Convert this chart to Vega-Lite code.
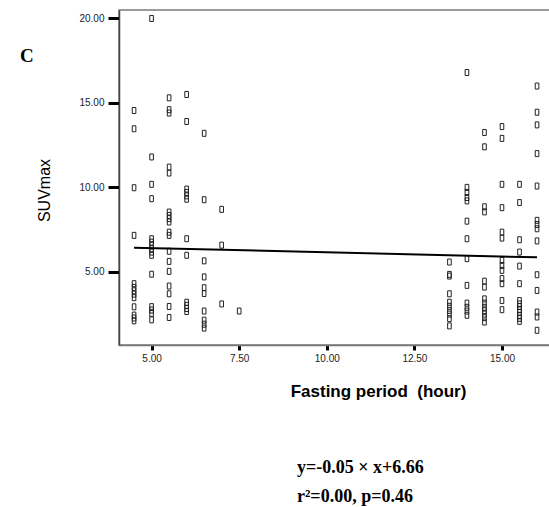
{
  "$schema": "https://vega.github.io/schema/vega-lite/v6.json",
  "width": 431,
  "height": 335,
  "autosize": "none",
  "padding": {"left": 119, "top": 10, "right": 0, "bottom": 162},
  "background": "white",
  "config": {
    "view": {"stroke": "#7a7a7a", "strokeWidth": 1.5},
    "axis": {
      "labelFont": "Liberation Sans",
      "labelFontSize": 10,
      "labelColor": "#222",
      "grid": false,
      "tickColor": "#000",
      "tickWidth": 3,
      "titleColor": "#000",
      "titleFont": "Liberation Sans"
    }
  },
  "title": {
    "text": ["y=-0.05 × x+6.66", "r²=0.00, p=0.46"],
    "orient": "bottom",
    "anchor": "start",
    "align": "left",
    "dx": 277,
    "offset": 60,
    "font": "Liberation Serif",
    "fontSize": 18,
    "fontWeight": "bold",
    "lineHeight": 29,
    "color": "#000"
  },
  "layer": [
    {
      "data": {
        "values": [
          {"hour": 4.5, "suv": 14.55}, {"hour": 4.5, "suv": 13.47}, {"hour": 4.5, "suv": 9.98}, {"hour": 4.5, "suv": 7.16},
          {"hour": 4.5, "suv": 4.3}, {"hour": 4.5, "suv": 4.08}, {"hour": 4.5, "suv": 3.88}, {"hour": 4.5, "suv": 3.68},
          {"hour": 4.5, "suv": 3.47}, {"hour": 4.5, "suv": 2.93}, {"hour": 4.5, "suv": 2.44}, {"hour": 4.5, "suv": 2.27}, {"hour": 4.5, "suv": 2.1},
          {"hour": 5.0, "suv": 20.0}, {"hour": 5.0, "suv": 11.8}, {"hour": 5.0, "suv": 10.18}, {"hour": 5.0, "suv": 9.33},
          {"hour": 5.0, "suv": 6.96}, {"hour": 5.0, "suv": 6.76}, {"hour": 5.0, "suv": 6.57}, {"hour": 5.0, "suv": 6.37},
          {"hour": 5.0, "suv": 6.17}, {"hour": 5.0, "suv": 5.98}, {"hour": 5.0, "suv": 4.86}, {"hour": 5.0, "suv": 2.94},
          {"hour": 5.0, "suv": 2.74}, {"hour": 5.0, "suv": 2.54}, {"hour": 5.0, "suv": 2.16},
          {"hour": 5.5, "suv": 15.3}, {"hour": 5.5, "suv": 14.6}, {"hour": 5.5, "suv": 14.4}, {"hour": 5.5, "suv": 11.2},
          {"hour": 5.5, "suv": 10.85}, {"hour": 5.5, "suv": 8.54}, {"hour": 5.5, "suv": 8.34}, {"hour": 5.5, "suv": 8.15},
          {"hour": 5.5, "suv": 7.95}, {"hour": 5.5, "suv": 7.35}, {"hour": 5.5, "suv": 7.16}, {"hour": 5.5, "suv": 6.22},
          {"hour": 5.5, "suv": 5.62}, {"hour": 5.5, "suv": 5.03}, {"hour": 5.5, "suv": 4.16}, {"hour": 5.5, "suv": 3.7},
          {"hour": 5.5, "suv": 2.95}, {"hour": 5.5, "suv": 2.3},
          {"hour": 6.0, "suv": 15.5}, {"hour": 6.0, "suv": 13.9}, {"hour": 6.0, "suv": 9.9}, {"hour": 6.0, "suv": 9.7},
          {"hour": 6.0, "suv": 9.5}, {"hour": 6.0, "suv": 9.3}, {"hour": 6.0, "suv": 6.96}, {"hour": 6.0, "suv": 5.98},
          {"hour": 6.0, "suv": 3.2}, {"hour": 6.0, "suv": 3.02}, {"hour": 6.0, "suv": 2.83}, {"hour": 6.0, "suv": 2.65},
          {"hour": 6.5, "suv": 13.2}, {"hour": 6.5, "suv": 9.27}, {"hour": 6.5, "suv": 5.65}, {"hour": 6.5, "suv": 4.7},
          {"hour": 6.5, "suv": 4.06}, {"hour": 6.5, "suv": 3.72}, {"hour": 6.5, "suv": 2.68}, {"hour": 6.5, "suv": 2.14},
          {"hour": 6.5, "suv": 1.9}, {"hour": 6.5, "suv": 1.67},
          {"hour": 7.0, "suv": 8.7}, {"hour": 7.0, "suv": 6.58}, {"hour": 7.0, "suv": 3.1},
          {"hour": 7.5, "suv": 2.68},
          {"hour": 13.5, "suv": 5.58}, {"hour": 13.5, "suv": 4.85}, {"hour": 13.5, "suv": 4.75}, {"hour": 13.5, "suv": 3.7},
          {"hour": 13.5, "suv": 3.2}, {"hour": 13.5, "suv": 2.96}, {"hour": 13.5, "suv": 2.72}, {"hour": 13.5, "suv": 2.5},
          {"hour": 13.5, "suv": 2.23}, {"hour": 13.5, "suv": 1.8},
          {"hour": 14.0, "suv": 16.8}, {"hour": 14.0, "suv": 10.0}, {"hour": 14.0, "suv": 9.7}, {"hour": 14.0, "suv": 9.4},
          {"hour": 14.0, "suv": 9.2}, {"hour": 14.0, "suv": 8.0}, {"hour": 14.0, "suv": 6.96}, {"hour": 14.0, "suv": 5.78},
          {"hour": 14.0, "suv": 4.2}, {"hour": 14.0, "suv": 3.15}, {"hour": 14.0, "suv": 2.9}, {"hour": 14.0, "suv": 2.68},
          {"hour": 14.0, "suv": 2.43},
          {"hour": 14.5, "suv": 13.25}, {"hour": 14.5, "suv": 12.4}, {"hour": 14.5, "suv": 8.85}, {"hour": 14.5, "suv": 8.55},
          {"hour": 14.5, "suv": 4.45}, {"hour": 14.5, "suv": 4.1}, {"hour": 14.5, "suv": 3.4}, {"hour": 14.5, "suv": 3.15},
          {"hour": 14.5, "suv": 2.9}, {"hour": 14.5, "suv": 2.7}, {"hour": 14.5, "suv": 2.5}, {"hour": 14.5, "suv": 2.29},
          {"hour": 14.5, "suv": 2.03},
          {"hour": 15.0, "suv": 13.6}, {"hour": 15.0, "suv": 12.9}, {"hour": 15.0, "suv": 10.18}, {"hour": 15.0, "suv": 8.8},
          {"hour": 15.0, "suv": 7.35}, {"hour": 15.0, "suv": 7.0}, {"hour": 15.0, "suv": 5.68}, {"hour": 15.0, "suv": 5.38},
          {"hour": 15.0, "suv": 5.09}, {"hour": 15.0, "suv": 4.6}, {"hour": 15.0, "suv": 4.3}, {"hour": 15.0, "suv": 3.3},
          {"hour": 15.0, "suv": 2.76},
          {"hour": 15.5, "suv": 10.18}, {"hour": 15.5, "suv": 9.1}, {"hour": 15.5, "suv": 6.9}, {"hour": 15.5, "suv": 6.17},
          {"hour": 15.5, "suv": 5.34}, {"hour": 15.5, "suv": 4.3}, {"hour": 15.5, "suv": 3.3}, {"hour": 15.5, "suv": 3.1},
          {"hour": 15.5, "suv": 2.95}, {"hour": 15.5, "suv": 2.78}, {"hour": 15.5, "suv": 2.6}, {"hour": 15.5, "suv": 2.4},
          {"hour": 15.5, "suv": 2.25}, {"hour": 15.5, "suv": 2.07},
          {"hour": 16.0, "suv": 16.0}, {"hour": 16.0, "suv": 14.45}, {"hour": 16.0, "suv": 13.7}, {"hour": 16.0, "suv": 12.0},
          {"hour": 16.0, "suv": 10.08}, {"hour": 16.0, "suv": 8.05}, {"hour": 16.0, "suv": 7.8}, {"hour": 16.0, "suv": 7.55},
          {"hour": 16.0, "suv": 6.83}, {"hour": 16.0, "suv": 4.83}, {"hour": 16.0, "suv": 3.9}, {"hour": 16.0, "suv": 2.62},
          {"hour": 16.0, "suv": 2.33}, {"hour": 16.0, "suv": 1.54}
        ]
      },
      "mark": {
        "type": "point",
        "shape": "M-0.6,-1H0.6V1H-0.6Z",
        "filled": false,
        "size": 36,
        "stroke": "#222",
        "strokeWidth": 1,
        "opacity": 1
      },
      "encoding": {
        "x": {
          "field": "hour",
          "type": "quantitative",
          "scale": {"domain": [4.07, 16.37], "nice": false, "zero": false},
          "axis": {
            "values": [5, 7.5, 10, 12.5, 15],
            "format": ".2f",
            "domainColor": "#777",
            "domainWidth": 1.5,
            "tickSize": 5,
            "labelPadding": 3,
            "title": "Fasting period\u00a0\u00a0(hour)",
            "titleFontSize": 17,
            "titleFontWeight": "bold",
            "titleX": 259,
            "titlePadding": 20
          }
        },
        "y": {
          "field": "suv",
          "type": "quantitative",
          "scale": {"domain": [0.67, 20.5], "nice": false, "zero": false},
          "axis": {
            "values": [5, 10, 15, 20],
            "format": ".2f",
            "domainColor": "#444",
            "domainWidth": 1.5,
            "tickSize": 11,
            "labelPadding": 4,
            "title": "SUVmax",
            "titleFontSize": 16,
            "titleFontWeight": "normal",
            "titleX": -75,
            "titleY": 180,
            "titleBaseline": "middle"
          }
        }
      }
    },
    {
      "data": {"values": [{"hour": 4.5, "suv": 6.43}, {"hour": 16.0, "suv": 5.86}]},
      "mark": {"type": "line", "color": "#000", "strokeWidth": 2},
      "encoding": {
        "x": {"field": "hour", "type": "quantitative"},
        "y": {"field": "suv", "type": "quantitative"}
      }
    },
    {
      "data": {"values": [{"label": "C"}]},
      "mark": {
        "type": "text",
        "font": "Liberation Serif",
        "fontSize": 19,
        "fontWeight": "bold",
        "align": "center",
        "baseline": "middle",
        "color": "#000"
      },
      "encoding": {
        "text": {"field": "label"},
        "x": {"datum": 1.44},
        "y": {"datum": 17.8}
      }
    }
  ]
}
